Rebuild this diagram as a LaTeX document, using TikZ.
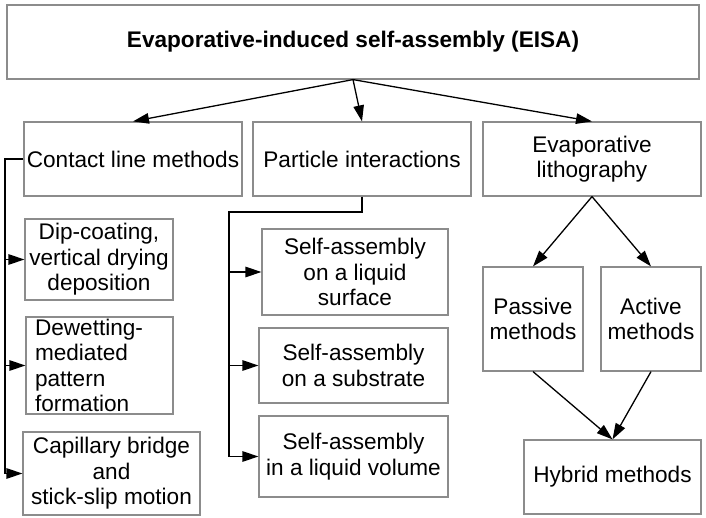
\documentclass[tikz,border=0pt]{standalone}
\usepackage{fontspec}
\setmainfont{Liberation Sans}
\usepackage{tikz}
\usetikzlibrary{arrows.meta,positioning}

\begin{document}
\begin{tikzpicture}[x=1pt, y=-1pt, >={Triangle[length=16pt,width=10.5pt]},
  font=\fontsize{22.6}{25.5}\selectfont,
  box/.style={draw=black!45, line width=1.2pt, align=center, inner sep=0pt},
  link/.style={draw, line width=1.3pt}]
\useasboundingbox (0,0) rectangle (706,518);
\node[box, minimum width=692, minimum height=74, font=\fontsize{22.6}{25.5}\selectfont\bfseries] (eisa) at (353,42) {Evaporative-induced self-assembly (EISA)};
\node[box, minimum width=218, minimum height=74] (contact) at (133,159) {Contact line methods};
\node[box, minimum width=218, minimum height=74] (particle) at (362,159) {Particle interactions};
\node[box, minimum width=218, minimum height=74] (evlith) at (592,159) {Evaporative\\ lithography};
\node[box, minimum width=148, minimum height=81] (dip) at (99,259.5) {Dip-coating,\\ vertical drying\\ deposition};
\node[box, minimum width=147, minimum height=97, text width=129, align=left, inner xsep=9pt] (dewet) at (99.5,365.5) {Dewetting-\\ mediated\\ pattern\\ formation};
\node[box, minimum width=177, minimum height=83] (capil) at (111.5,473.5) {Capillary bridge\\ and\\ stick-slip motion};
\node[box, minimum width=186, minimum height=86] (surface) at (355,272) {Self-assembly\\ on a liquid\\ surface};
\node[box, minimum width=189, minimum height=75] (substrate) at (353.5,365.5) {Self-assembly\\ on a substrate};
\node[box, minimum width=189, minimum height=81] (volume) at (353.5,456.5) {Self-assembly\\ in a liquid volume};
\node[box, minimum width=100, minimum height=104] (passive) at (533,319) {Passive\\ methods};
\node[box, minimum width=100, minimum height=104] (active) at (651,319) {Active\\ methods};
\node[box, minimum width=177, minimum height=74] (hybrid) at (612.5,477) {Hybrid methods};
% top level
\draw[link, ->] (eisa.south) -- (contact.north);
\draw[link, ->] (eisa.south) -- (particle.north);
\draw[link, ->] (eisa.south) -- (evlith.north);
% contact line branch
\coordinate (cl) at (5,0);
\draw[link, ->] (contact.west) -| (cl |- capil.west) -- (capil.west);
\foreach \n in {dip,dewet}
  \draw[link, ->] (cl |- \n.west) -- (\n.west);
% particle branch
\coordinate (pl) at (229,212);
\draw[link, ->] (particle.south) |- (pl) |- (volume.west);
\foreach \n in {surface,substrate}
  \draw[link, ->] (pl |- \n.west) -- (\n.west);
% lithography branch
\draw[link, ->] (evlith.south) -- (passive.north);
\draw[link, ->] (evlith.south) -- (active.north);
\draw[link, ->] (passive.south) -- (hybrid.north);
\draw[link, ->] (active.south) -- (hybrid.north);
\end{tikzpicture}
\end{document}
